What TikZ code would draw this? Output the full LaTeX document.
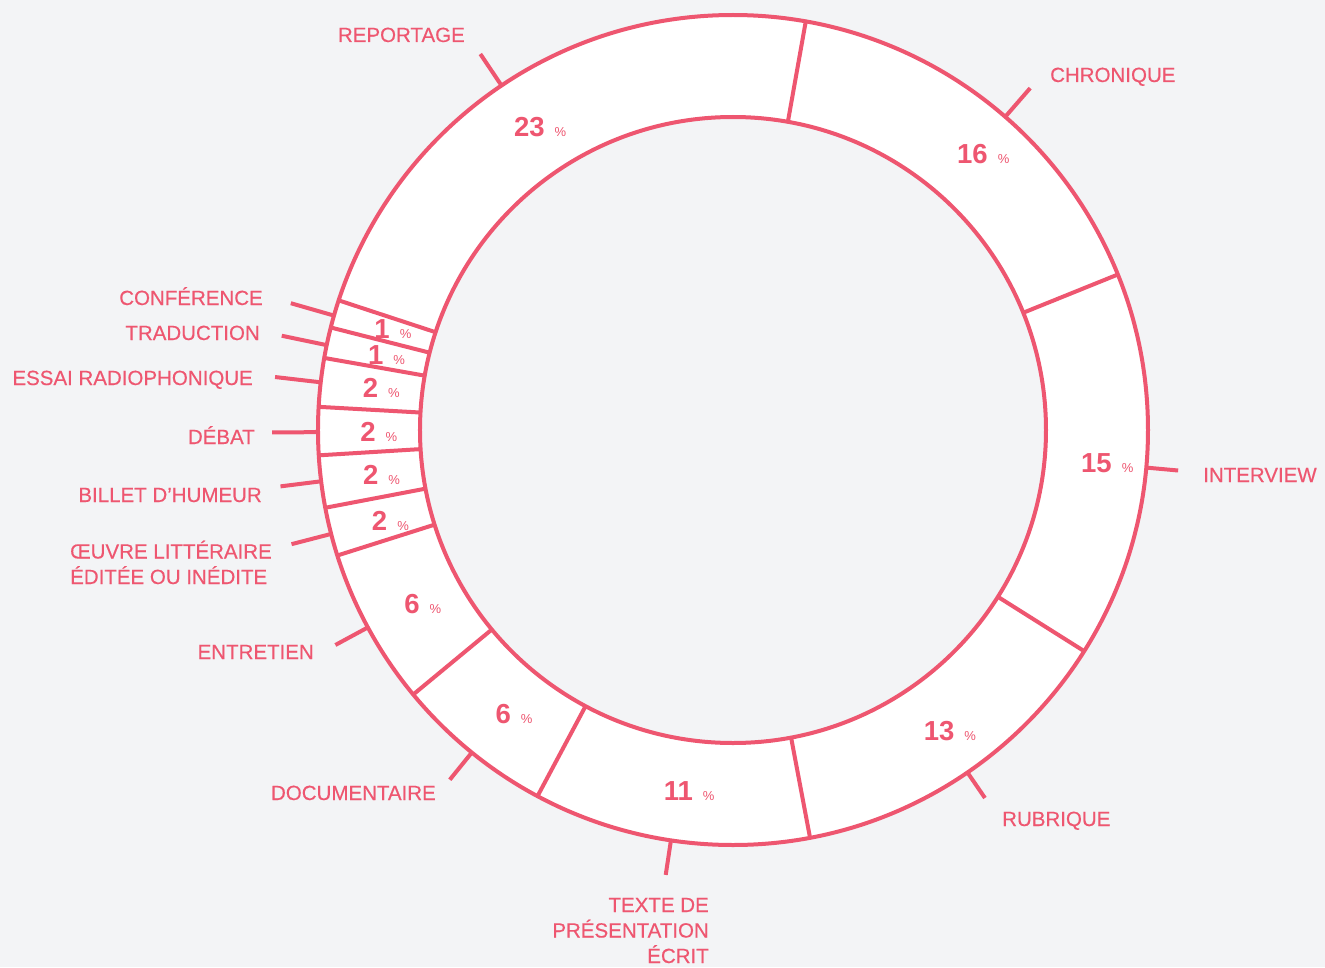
\documentclass[tikz,border=0pt]{standalone}
\usepackage{fontspec}
\setmainfont{Liberation Sans}
\newfontfamily\moyen[FakeBold=0.4]{Liberation Sans}
\definecolor{rose}{HTML}{EE5670}
\definecolor{fond}{HTML}{F3F4F6}
\tikzset{
	trait/.style={draw=rose, line width=4pt},
	cat/.style={text=rose, inner sep=0pt, font=\moyen\fontsize{20.5}{25.5}\selectfont},
	pct/.style={text=rose, inner sep=0pt, font=\fontsize{27.5}{27.5}\selectfont\bfseries}
}
\newcommand{\pc}{\rlap{\hspace{10pt}\fontsize{13}{13}\selectfont\mdseries\%}}
\begin{document}
\begin{tikzpicture}[x=1pt, y=1pt, line join=round]
	\def\R{415} \def\r{313} \def\m{365} % rayons
	\useasboundingbox[fill=fond] (-733,-537) rectangle (592,430);
	\fill[white, even odd rule] (0,0) circle[radius=\R pt] (0,0) circle[radius=\r pt];
	\draw[trait] (0,0) circle[radius=\R pt];
	\draw[trait] (0,0) circle[radius=\r pt];
	% limites des secteurs
	\foreach \b in {79.9,22.0,-32.2,-79.3,-118.1,-140.4,-162.4,-169.2,-176.5,176.8,170,165.7,161.8}
		\draw[trait] (\b:\r pt) -- (\b:\R pt);
	% reperes et pourcentages
	\foreach \a/\p/\l [count=\i] in {123.9/23/38, 49/16/38, -5.2/15/32, -55.6/13/31, -98.6/11/35, -129/6/35, -151.6/6/37, -165.5/2/41, -172.9/2/41, 180.3/2/46, 173.4/2/46, 168.2/1/46, 164/1/45}{
		\pgfmathsetmacro\e{\R+\l}
		\coordinate (s\i) at (\a:\R pt);
		\coordinate (t\i) at (\a:\e pt);
		\draw[trait] (s\i) -- (t\i);
		\node[pct] (p\i) at (\a:\m pt) {\p\pc};
	}
	% categories
	\node[cat, anchor=base east] (reportage) at (-268,388) {REPORTAGE};
	\node[cat, anchor=base west] (chronique) at (317,348) {CHRONIQUE};
	\node[cat, anchor=base west] (interview) at (470,-52) {INTERVIEW};
	\node[cat, anchor=base west] (rubrique) at (269,-396) {RUBRIQUE};
	\node[cat, anchor=base east, align=right] (texte) at (-24,-533) {TEXTE DE\\PRÉSENTATION\\ÉCRIT};
	\node[cat, anchor=base east] (documentaire) at (-297,-370) {DOCUMENTAIRE};
	\node[cat, anchor=base east] (entretien) at (-419,-229) {ENTRETIEN};
	\node[cat, anchor=base west, align=left] (oeuvre) at (-663,-154) {ŒUVRE LITTÉRAIRE\\ÉDITÉE OU INÉDITE};
	\node[cat, anchor=base east] (billet) at (-471,-72) {BILLET D’HUMEUR};
	\node[cat, anchor=base east] (debat) at (-478,-14) {DÉBAT};
	\node[cat, anchor=base east] (essai) at (-480,45) {ESSAI RADIOPHONIQUE};
	\node[cat, anchor=base east] (traduction) at (-473,90) {TRADUCTION};
	\node[cat, anchor=base east] (conference) at (-470,125) {CONFÉRENCE};
\end{tikzpicture}
\end{document}
